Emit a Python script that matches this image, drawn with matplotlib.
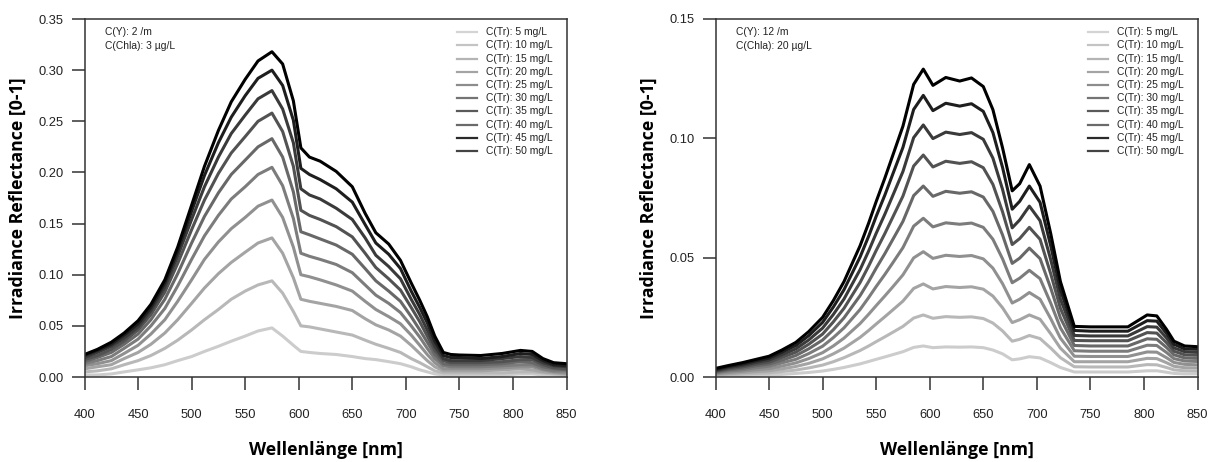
import matplotlib
matplotlib.use("Agg")
import matplotlib.pyplot as plt

# Wellenlängen (nm), links: C(Y)=2 /m, C(Chla)=3 µg/L
wl_left = [400, 412, 425, 437, 450, 462, 475, 487, 500, 512, 525, 537, 550, 562, 575, 585, 595, 602, 610, 620,
           635, 650, 662, 672, 684, 695, 705, 713, 720, 727, 735, 742, 750, 770, 790, 807, 818, 828, 838, 850]

L05 = [0.002, 0.002, 0.003, 0.005, 0.007, 0.009, 0.012, 0.016, 0.020, 0.025, 0.030, 0.035, 0.040, 0.045, 0.048, 0.040,
       0.031, 0.025, 0.024, 0.023, 0.022, 0.020, 0.018, 0.017, 0.015, 0.013, 0.010, 0.007, 0.005, 0.003, 0.002, 0.002,
       0.002, 0.002, 0.002, 0.003, 0.003, 0.002, 0.002, 0.001]
L10 = [0.005, 0.006, 0.008, 0.012, 0.016, 0.021, 0.028, 0.036, 0.046, 0.056, 0.066, 0.076, 0.084, 0.090, 0.094, 0.082,
       0.064, 0.050, 0.049, 0.047, 0.044, 0.041, 0.036, 0.032, 0.028, 0.024, 0.018, 0.014, 0.010, 0.006, 0.004, 0.004,
       0.004, 0.004, 0.004, 0.005, 0.005, 0.004, 0.003, 0.002]
L15 = [0.008, 0.010, 0.012, 0.018, 0.024, 0.032, 0.043, 0.056, 0.072, 0.087, 0.101, 0.112, 0.122, 0.131, 0.136, 0.121,
       0.097, 0.076, 0.074, 0.072, 0.069, 0.065, 0.057, 0.051, 0.046, 0.040, 0.031, 0.023, 0.016, 0.010, 0.006, 0.006,
       0.006, 0.006, 0.007, 0.008, 0.007, 0.005, 0.004, 0.003]
L20 = [0.011, 0.013, 0.016, 0.023, 0.031, 0.042, 0.056, 0.074, 0.095, 0.115, 0.132, 0.145, 0.156, 0.167, 0.173, 0.156,
       0.127, 0.100, 0.098, 0.095, 0.090, 0.084, 0.074, 0.066, 0.059, 0.052, 0.041, 0.031, 0.022, 0.014, 0.008, 0.008,
       0.008, 0.008, 0.009, 0.010, 0.010, 0.007, 0.005, 0.004]
L25 = [0.013, 0.016, 0.020, 0.028, 0.037, 0.050, 0.067, 0.089, 0.115, 0.138, 0.158, 0.174, 0.186, 0.198, 0.205, 0.187,
       0.155, 0.121, 0.118, 0.115, 0.110, 0.102, 0.090, 0.080, 0.072, 0.063, 0.050, 0.039, 0.028, 0.018, 0.011, 0.010,
       0.010, 0.010, 0.011, 0.012, 0.012, 0.008, 0.006, 0.006]
L30 = [0.015, 0.019, 0.024, 0.032, 0.042, 0.056, 0.076, 0.101, 0.131, 0.157, 0.180, 0.198, 0.212, 0.225, 0.233, 0.215,
       0.181, 0.142, 0.139, 0.135, 0.129, 0.120, 0.106, 0.094, 0.084, 0.074, 0.059, 0.046, 0.034, 0.022, 0.013, 0.012,
       0.012, 0.012, 0.013, 0.015, 0.014, 0.010, 0.008, 0.007]
L35 = [0.017, 0.021, 0.027, 0.035, 0.046, 0.061, 0.083, 0.111, 0.144, 0.173, 0.199, 0.219, 0.235, 0.250, 0.258, 0.240,
       0.206, 0.163, 0.158, 0.154, 0.147, 0.137, 0.121, 0.107, 0.096, 0.085, 0.068, 0.054, 0.040, 0.026, 0.016, 0.014,
       0.014, 0.014, 0.015, 0.017, 0.017, 0.012, 0.009, 0.008]
L40 = [0.019, 0.024, 0.030, 0.038, 0.049, 0.065, 0.088, 0.118, 0.154, 0.186, 0.215, 0.238, 0.256, 0.272, 0.280, 0.262,
       0.229, 0.184, 0.178, 0.174, 0.165, 0.154, 0.136, 0.119, 0.108, 0.096, 0.076, 0.061, 0.046, 0.030, 0.018, 0.016,
       0.016, 0.016, 0.018, 0.020, 0.019, 0.014, 0.011, 0.010]
L45 = [0.021, 0.026, 0.032, 0.041, 0.052, 0.068, 0.092, 0.123, 0.162, 0.197, 0.229, 0.254, 0.275, 0.292, 0.300, 0.285,
       0.251, 0.204, 0.198, 0.193, 0.184, 0.171, 0.149, 0.131, 0.120, 0.106, 0.084, 0.068, 0.053, 0.035, 0.021, 0.019,
       0.019, 0.018, 0.020, 0.023, 0.022, 0.016, 0.012, 0.011]
L50 = [0.022, 0.027, 0.034, 0.043, 0.055, 0.071, 0.095, 0.127, 0.168, 0.206, 0.241, 0.269, 0.291, 0.309, 0.318, 0.306,
       0.270, 0.224, 0.215, 0.211, 0.201, 0.186, 0.160, 0.141, 0.130, 0.114, 0.092, 0.075, 0.059, 0.040, 0.024, 0.022,
       0.0215, 0.021, 0.023, 0.026, 0.025, 0.018, 0.014, 0.013]

# rechts: C(Y)=12 /m, C(Chla)=20 µg/L
wl_right = [400, 412, 425, 437, 450, 462, 475, 487, 500, 510, 520, 535, 543, 550, 558, 565, 575, 585, 594, 603,
            615, 628, 639, 650, 659, 668, 677, 684, 693, 703, 713, 722, 735, 750, 785, 803, 812, 821, 828, 838, 850]

R05 = [0.0003, 0.0005, 0.0006, 0.0007, 0.0009, 0.0011, 0.0015, 0.0019, 0.0025, 0.0032, 0.0040, 0.0055, 0.0065, 0.0074,
       0.0084, 0.0093, 0.0106, 0.0124, 0.0130, 0.0123, 0.0126, 0.0125, 0.0126, 0.0123, 0.0113, 0.0097, 0.0072, 0.0076,
       0.0085, 0.0080, 0.0060, 0.0040, 0.0021, 0.0021, 0.0021, 0.0026, 0.0026, 0.0020, 0.0015, 0.0013, 0.0013]
R10 = [0.0007, 0.0010, 0.0012, 0.0015, 0.0017, 0.0023, 0.0029, 0.0038, 0.0050, 0.0064, 0.0081, 0.0111, 0.0130, 0.0148,
       0.0168, 0.0186, 0.0212, 0.0247, 0.0260, 0.0246, 0.0253, 0.0250, 0.0252, 0.0245, 0.0226, 0.0193, 0.0150, 0.0158,
       0.0174, 0.0161, 0.0121, 0.0081, 0.0043, 0.0042, 0.0042, 0.0052, 0.0051, 0.0040, 0.0030, 0.0026, 0.0025]
R15 = [0.0010, 0.0014, 0.0018, 0.0022, 0.0026, 0.0034, 0.0044, 0.0057, 0.0076, 0.0097, 0.0121, 0.0166, 0.0195, 0.0222,
       0.0252, 0.0279, 0.0318, 0.0371, 0.0390, 0.0369, 0.0379, 0.0375, 0.0378, 0.0368, 0.0339, 0.0290, 0.0228, 0.0240,
       0.0260, 0.0242, 0.0181, 0.0121, 0.0064, 0.0064, 0.0064, 0.0078, 0.0077, 0.0060, 0.0045, 0.0039, 0.0038]
R20 = [0.0013, 0.0019, 0.0024, 0.0030, 0.0035, 0.0046, 0.0059, 0.0077, 0.0102, 0.0130, 0.0163, 0.0224, 0.0263, 0.0299,
       0.0339, 0.0375, 0.0428, 0.0499, 0.0525, 0.0497, 0.0510, 0.0505, 0.0509, 0.0495, 0.0456, 0.0391, 0.0310, 0.0326,
       0.0354, 0.0326, 0.0244, 0.0163, 0.0087, 0.0086, 0.0086, 0.0105, 0.0104, 0.0081, 0.0061, 0.0053, 0.0051]
R25 = [0.0017, 0.0025, 0.0030, 0.0038, 0.0045, 0.0059, 0.0074, 0.0098, 0.0129, 0.0165, 0.0206, 0.0283, 0.0333, 0.0379,
       0.0429, 0.0475, 0.0542, 0.0632, 0.0665, 0.0629, 0.0646, 0.0640, 0.0645, 0.0627, 0.0577, 0.0495, 0.0395, 0.0414,
       0.0447, 0.0412, 0.0309, 0.0206, 0.0110, 0.0108, 0.0108, 0.0133, 0.0132, 0.0103, 0.0077, 0.0067, 0.0065]
R30 = [0.0020, 0.0030, 0.0036, 0.0046, 0.0054, 0.0070, 0.0090, 0.0118, 0.0155, 0.0198, 0.0248, 0.0341, 0.0400, 0.0456,
       0.0516, 0.0572, 0.0652, 0.0760, 0.0800, 0.0757, 0.0778, 0.0770, 0.0776, 0.0754, 0.0694, 0.0595, 0.0476, 0.0498,
       0.0540, 0.0496, 0.0372, 0.0248, 0.0132, 0.0130, 0.0130, 0.0160, 0.0158, 0.0124, 0.0093, 0.0080, 0.0078]
R35 = [0.0024, 0.0034, 0.0042, 0.0053, 0.0062, 0.0082, 0.0104, 0.0137, 0.0180, 0.0231, 0.0288, 0.0396, 0.0465, 0.0530,
       0.0600, 0.0665, 0.0758, 0.0884, 0.0930, 0.0880, 0.0904, 0.0895, 0.0902, 0.0877, 0.0807, 0.0692, 0.0555, 0.0580,
       0.0627, 0.0577, 0.0432, 0.0288, 0.0153, 0.0152, 0.0152, 0.0186, 0.0184, 0.0144, 0.0108, 0.0093, 0.0091]
R40 = [0.0027, 0.0039, 0.0048, 0.0060, 0.0071, 0.0093, 0.0118, 0.0155, 0.0205, 0.0262, 0.0327, 0.0450, 0.0528, 0.0602,
       0.0681, 0.0755, 0.0861, 0.1003, 0.1056, 0.0999, 0.1026, 0.1016, 0.1024, 0.0996, 0.0917, 0.0786, 0.0625, 0.0658,
       0.0716, 0.0655, 0.0491, 0.0327, 0.0174, 0.0172, 0.0172, 0.0211, 0.0209, 0.0164, 0.0122, 0.0106, 0.0103]
R45 = [0.0031, 0.0044, 0.0054, 0.0067, 0.0079, 0.0104, 0.0132, 0.0173, 0.0229, 0.0293, 0.0366, 0.0503, 0.0590, 0.0673,
       0.0761, 0.0844, 0.0962, 0.1121, 0.1180, 0.1116, 0.1147, 0.1135, 0.1145, 0.1113, 0.1024, 0.0878, 0.0703, 0.0736,
       0.0800, 0.0732, 0.0549, 0.0366, 0.0195, 0.0192, 0.0192, 0.0236, 0.0234, 0.0183, 0.0137, 0.0118, 0.0116]
R50 = [0.0036, 0.0048, 0.0060, 0.0073, 0.0087, 0.0113, 0.0145, 0.0190, 0.0250, 0.0320, 0.0400, 0.0550, 0.0645, 0.0735,
       0.0832, 0.0922, 0.1051, 0.1226, 0.1290, 0.1222, 0.1255, 0.1240, 0.1253, 0.1217, 0.1120, 0.0960, 0.0780, 0.0810,
       0.0890, 0.0800, 0.0600, 0.0400, 0.0212, 0.0210, 0.0210, 0.0260, 0.0256, 0.0200, 0.0150, 0.0130, 0.0127]

concentrations = [5, 10, 15, 20, 25, 30, 35, 40, 45, 50]
line_grey = ["#cccccc", "#b8b8b8", "#a4a4a4", "#909090", "#7c7c7c", "#686868", "#525252", "#3a3a3a", "#1e1e1e", "#000000"]
legend_grey = ["#d4d4d4", "#c4c4c4", "#b4b4b4", "#a4a4a4", "#8c8c8c", "#747474", "#5a5a5a", "#6a6a6a", "#2a2a2a", "#444444"]

panels = [
    (wl_left, [L05, L10, L15, L20, L25, L30, L35, L40, L45, L50], 0.35,
     [0.0, 0.05, 0.10, 0.15, 0.20, 0.25, 0.30, 0.35], ["C(Y): 2 /m", "C(Chla): 3 µg/L"]),
    (wl_right, [R05, R10, R15, R20, R25, R30, R35, R40, R45, R50], 0.15,
     [0.0, 0.05, 0.10, 0.15], ["C(Y): 12 /m", "C(Chla): 20 µg/L"]),
]

W, H = 1212, 462
fig = plt.figure(figsize=(W / 100, H / 100), dpi=100)
lefts = [84.5, 715.5]

for (wl, series, ymax, yticks, info), left in zip(panels, lefts):
    ax = fig.add_axes([left / W, (H - 377) / H, 482 / W, 358 / H])
    for values, grey in zip(series, line_grey):
        ax.plot(wl, values, color=grey, lw=2.2, solid_joinstyle="round", solid_capstyle="round")
    ax.set_xlim(400, 850)
    ax.set_ylim(0, ymax)
    ax.set_xticks(range(400, 851, 50))
    ax.set_yticks(yticks)
    ax.set_yticklabels([f"{t:.2f}" for t in yticks])
    for spine in ax.spines.values():
        spine.set_color("#333333"); spine.set_linewidth(1.1)
    ax.tick_params(axis="x", direction="out", length=9.7, width=1.1, color="#333333", pad=13.4,
                   labelsize=9.3, labelfontfamily="Liberation Sans", labelcolor="#222222")
    ax.tick_params(axis="y", direction="out", length=9.7, width=1.1, color="#333333", pad=5.3,
                   labelsize=9.3, labelfontfamily="Liberation Sans", labelcolor="#222222")
    ax.set_xlabel("Wellenlänge [nm]", fontfamily="Open Sans", fontweight="bold", fontsize=12.8, labelpad=14)
    ax.set_ylabel("Irradiance Reflectance [0-1]", fontfamily="Open Sans", fontweight="bold", fontsize=12.8,
                  labelpad=8)

    for i, line in enumerate(info):
        ax.text(0.0425, 0.9637 - i * 0.039, line, transform=ax.transAxes, fontsize=7.4,
                family="Liberation Sans", va="center", color="#222222")
    for i, (conc, grey) in enumerate(zip(concentrations, legend_grey)):
        y = 1 - (13.2 + i * 13.2) / 358
        ax.plot([0.772, 0.8135], [y, y], transform=ax.transAxes, color=grey, lw=1.6, clip_on=False)
        ax.text(0.834, y, f"C(Tr): {conc} mg/L", transform=ax.transAxes, fontsize=7.4,
                family="Liberation Sans", va="center", color="#222222")

fig.savefig("out.png", dpi=100)
